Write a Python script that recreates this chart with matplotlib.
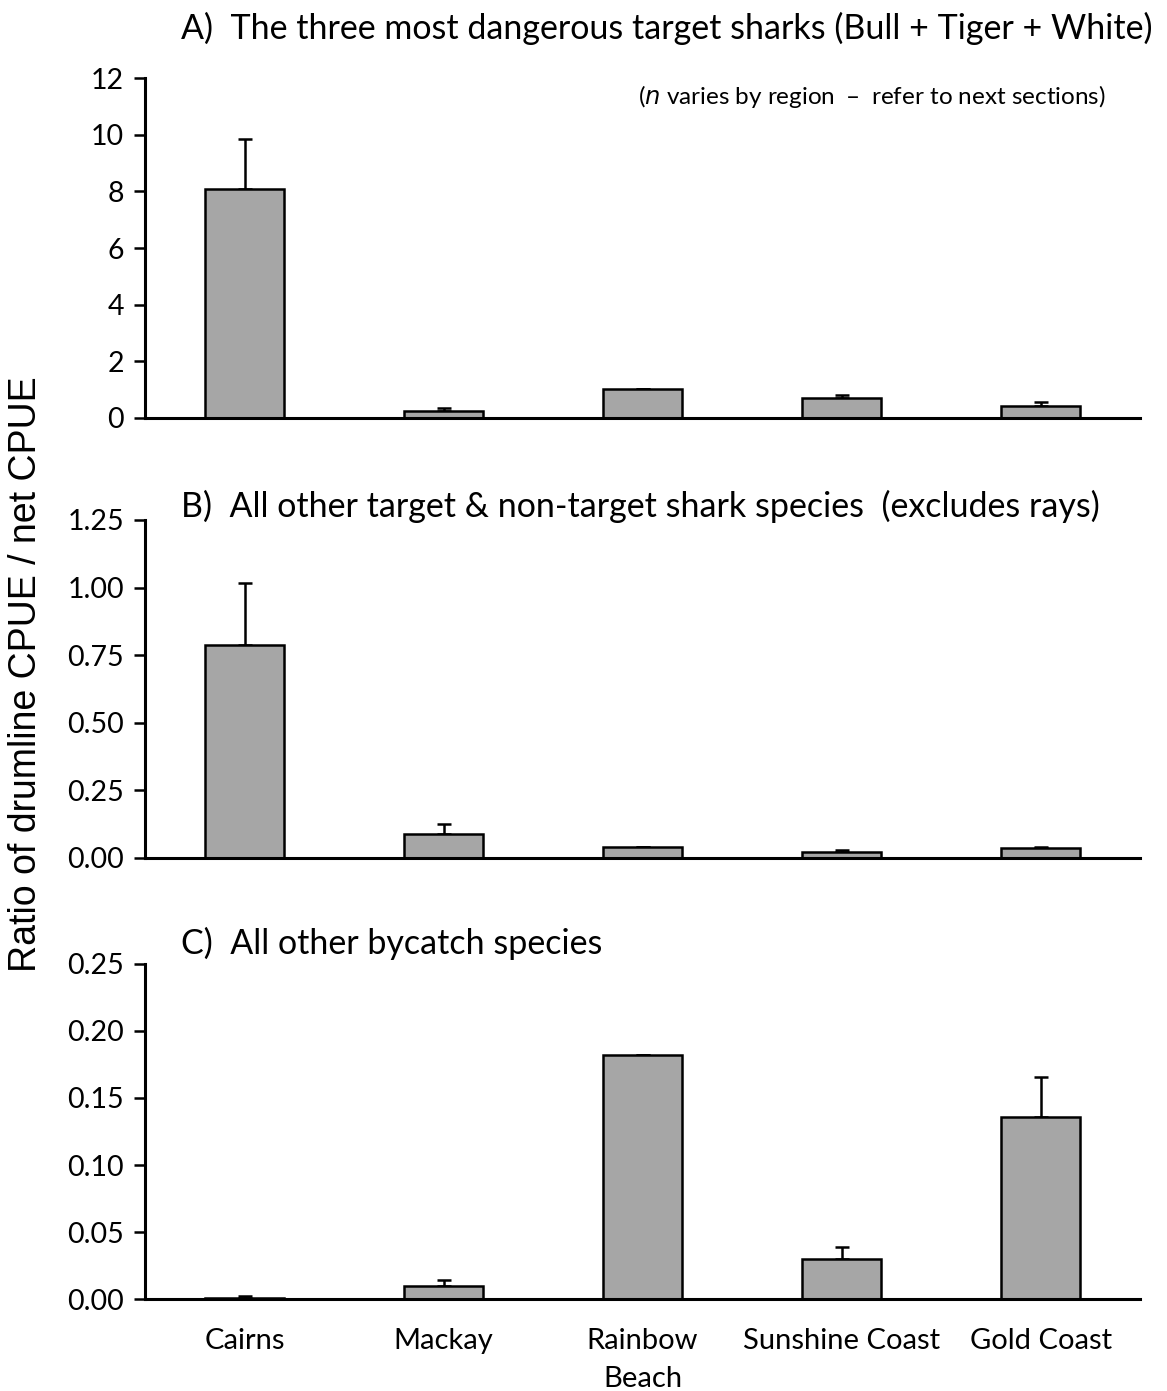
import matplotlib
matplotlib.use("Agg")
import matplotlib.pyplot as plt
import numpy as np

# regions along the Queensland coast
regions = ["Cairns", "Mackay", "Rainbow\nBeach", "Sunshine Coast", "Gold Coast"]

# A) bull + tiger + white sharks
ratio_a = [8.08, 0.25, 1.03, 0.72, 0.43]
se_a = [1.77, 0.10, 0.0, 0.10, 0.12]

# B) other target & non-target sharks
ratio_b = [0.787, 0.089, 0.040, 0.022, 0.036]
se_b = [0.230, 0.036, 0.0, 0.008, 0.005]

# C) other bycatch
ratio_c = [0.001, 0.010, 0.182, 0.030, 0.136]
se_c = [0.001, 0.004, 0.0, 0.009, 0.030]

titles = [
    "A)  The three most dangerous target sharks (Bull + Tiger + White)",
    "B)  All other target & non-target shark species  (excludes rays)",
    "C)  All other bycatch species",
]
title_y = [1.145, 1.04, 1.06]
ylims = [(0, 12), (0, 1.25), (0, 0.25)]
yticks = [np.arange(0, 13, 2), np.arange(0, 1.26, 0.25), np.arange(0, 0.26, 0.05)]
yfmts = ["{:.0f}", "{:.2f}", "{:.2f}"]

FONT = "Lato"

fig = plt.figure(figsize=(11.67, 13.91), dpi=100)
boxes = [
    [0.1243, 0.6995, 0.8527, 0.2444],
    [0.1243, 0.3832, 0.8527, 0.2430],
    [0.1243, 0.0661, 0.8527, 0.2409],
]

series = [(ratio_a, se_a), (ratio_b, se_b), (ratio_c, se_c)]
x = np.arange(len(regions))

for i, (box, (vals, err)) in enumerate(zip(boxes, series)):
    ax = fig.add_axes(box)
    ax.bar(x, vals, width=0.4, color="#a6a6a6", edgecolor="black",
           linewidth=1.8, zorder=2)
    ax.errorbar(x, vals, yerr=[np.zeros(len(err)), err], fmt="none",
                ecolor="black", elinewidth=1.8, capsize=5, capthick=1.8,
                zorder=1)
    ax.set_xlim(-0.5, len(regions) - 0.5)
    ax.set_ylim(*ylims[i])
    ax.set_yticks(yticks[i])
    ax.set_yticklabels([yfmts[i].format(t) for t in yticks[i]],
                       fontfamily=FONT, fontsize=20.5)
    ax.tick_params(axis="y", direction="out", length=8, width=1.8, pad=7)
    ax.tick_params(axis="x", length=0)
    if i == 2:
        ax.set_xticks(x)
        ax.set_xticklabels(regions, fontfamily=FONT, fontsize=21,
                           linespacing=1.55, va="top")
        ax.tick_params(axis="x", pad=21)
    else:
        ax.set_xticks([])
    for side in ["top", "right"]:
        ax.spines[side].set_visible(False)
    for side in ["left", "bottom"]:
        ax.spines[side].set_linewidth(2.2)
    ax.text(0.036, title_y[i], titles[i],
            transform=ax.transAxes, fontfamily=FONT, fontsize=24.5,
            ha="left", va="center")
    if i == 0:
        ax.text(0.966, 0.945,
                "($\\it{n}$ varies by region  \u2013  refer to next sections)",
                transform=ax.transAxes, fontfamily=FONT, fontsize=17.5,
                ha="right", va="center")

fig.text(0.022, 0.515, "Ratio of drumline CPUE / net CPUE",
         rotation=90, fontfamily="Liberation Sans", fontsize=27,
         ha="center", va="center")

fig.savefig("out.png", dpi=100)
